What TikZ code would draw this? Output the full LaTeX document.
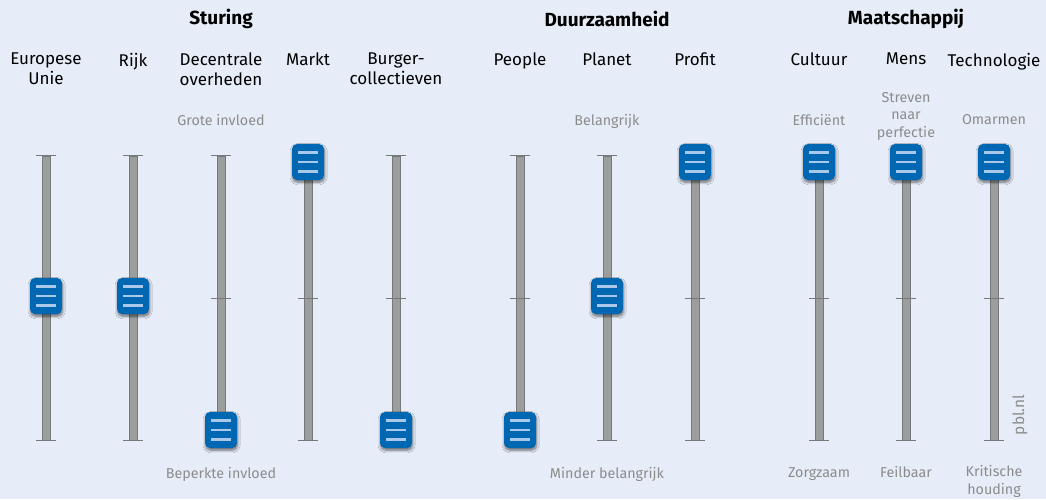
\documentclass[tikz,border=0pt]{standalone}
\usepackage{fontspec}
\setmainfont{Fira Sans}
\usetikzlibrary{shadows.blur}

\definecolor{bg}{RGB}{230,236,248}
\definecolor{knobblue}{RGB}{0,103,178}
\definecolor{knobline}{RGB}{170,200,234}
\definecolor{trackgray}{RGB}{156,158,157}
\definecolor{trackedge}{RGB}{118,120,122}
\definecolor{notegray}{RGB}{140,140,140}

\tikzset{
  knob/.style={fill=knobblue, rounded corners=5pt, minimum width=32pt,
    minimum height=36pt, inner sep=0pt,
    blur shadow={shadow xshift=0.6pt, shadow yshift=-2.2pt,
      shadow blur radius=2.6pt, shadow blur steps=8, shadow opacity=55},
    path picture={
      \foreach \dy in {-9.4,0,9.4}
        \draw[knobline, line width=2.4pt]
          ([xshift=-10.2pt,yshift=\dy pt]path picture bounding box.center) -- ++(20.4pt,0);
    }},
  track/.style={fill=trackgray, draw=trackedge, line width=0.9pt,
    minimum width=8pt, minimum height=284pt, inner sep=0pt},
  endcap/.style={draw=trackedge, line width=1.6pt},
  midtick/.style={draw=trackedge, line width=1pt},
  head/.style={align=center, font=\fontsize{17}{20}\selectfont, text=black, inner sep=0pt, anchor=north},
  title/.style={font=\fontsize{19}{22}\selectfont\bfseries, inner sep=0pt},
  note/.style={align=center, font=\fontsize{14.3}{17.5}\selectfont, text=notegray, inner sep=0pt},
}

% \slider{name}{x}{knob y}
\newcommand\slider[3]{%
  \node[track] (#1t) at (#2,298) {};
  \draw[endcap] ([xshift=-10pt]#1t.north) -- ([xshift=10pt]#1t.north);
  \draw[endcap] ([xshift=-10pt]#1t.south) -- ([xshift=10pt]#1t.south);
  \draw[midtick] ([xshift=-10pt]#1t.center) -- ([xshift=10pt]#1t.center);
  \node[knob] (#1k) at (#2,#3) {};
}

\begin{document}
\begin{tikzpicture}[x=1pt, y=-1pt]
  \useasboundingbox[fill=bg] (0,0) rectangle (1046,499);

  % group titles
  \node[title] (sturing) at (221,19) {Sturing};
  \node[title] (duurz) at (607,19) {Duurzaamheid};
  \node[title] (maats) at (906,19) {Maatschappij};

  % column headings
  \node[head] (h1) at (46,53) {Europese\\Unie};
  \node[head] (h2) at (133,53) {Rijk};
  \node[head] (h3) at (221,53) {Decentrale\\overheden};
  \node[head] (h4) at (308,53) {Markt};
  \node[head] (h5) at (396,53) {Burger-\\collectieven};
  \node[head] (h6) at (520,53) {People};
  \node[head] (h7) at (607,53) {Planet};
  \node[head] (h8) at (695,53) {Profit};
  \node[head] (h9) at (819,53) {Cultuur};
  \node[head] (h10) at (906,53) {Mens};
  \node[head] (h11) at (994,53) {Technologie};

  % sliders
  \slider{eu}{46}{296}
  \slider{rijk}{133}{296}
  \slider{dec}{221}{430}
  \slider{markt}{308}{162}
  \slider{burg}{396}{430}
  \slider{people}{520}{430}
  \slider{planet}{607}{296}
  \slider{profit}{695}{162}
  \slider{cult}{819}{162}
  \slider{mens}{906}{162}
  \slider{tech}{994}{162}

  % scale labels
  \node[note] (l1) at (221,120) {Grote invloed};
  \node[note] (l2) at (221,474) {Beperkte invloed};
  \node[note] (l3) at (607,121) {Belangrijk};
  \node[note] (l4) at (607,474) {Minder belangrijk};
  \node[note] (l5) at (819,120) {Efficiënt};
  \node[note] (l6) at (906,116.5) {Streven\\naar\\perfectie};
  \node[note] (l7) at (994,120) {Omarmen};
  \node[note] (l8) at (819,474) {Zorgzaam};
  \node[note] (l9) at (906,472) {Feilbaar};
  \node[note] (l10) at (994,481.5) {Kritische\\houding};

  % source
  \node[note, rotate=90, font=\fontsize{15.5}{18}\selectfont] (src) at (1020,415) {pbl.nl};
\end{tikzpicture}
\end{document}
